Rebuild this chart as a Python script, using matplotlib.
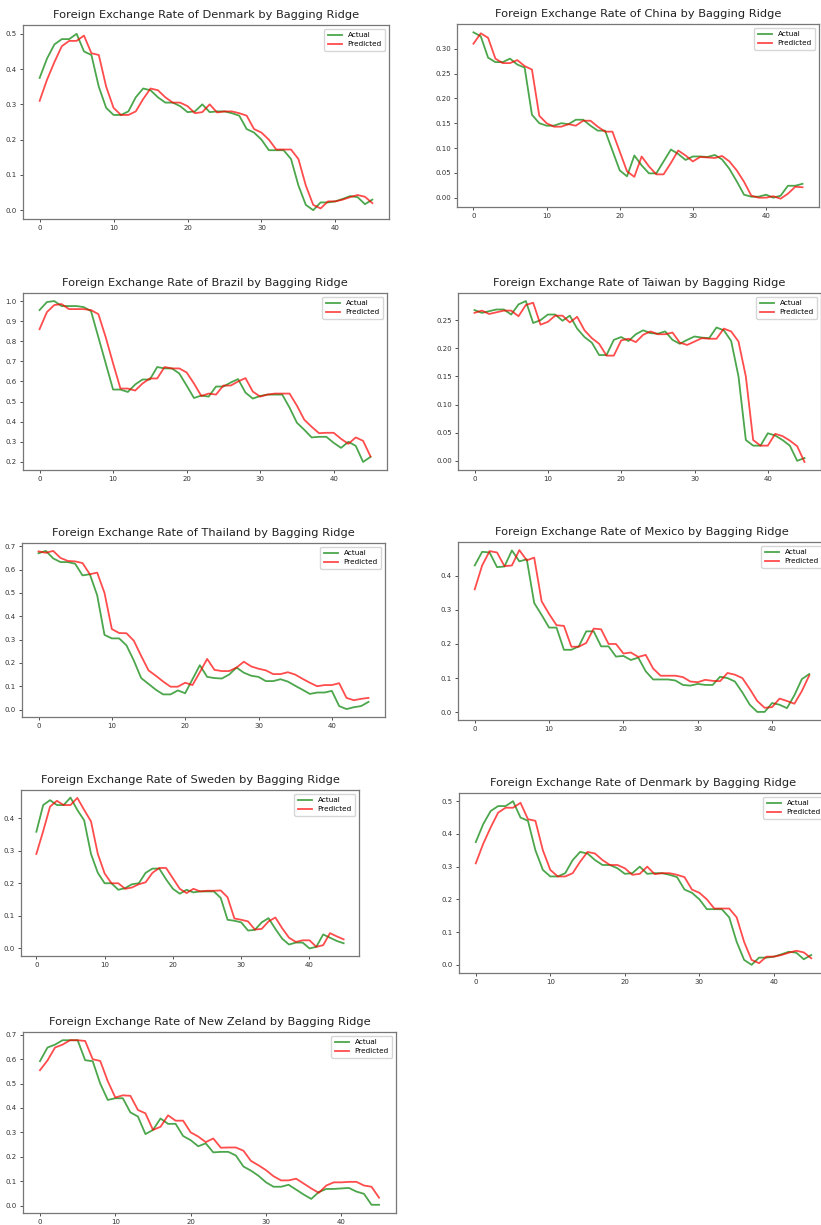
import matplotlib.pyplot as plt

x = list(range(46))

denmark_actual = [0.375, 0.43, 0.47, 0.485, 0.485, 0.50, 0.45, 0.44, 0.35, 0.29,
                  0.27, 0.27, 0.28, 0.32, 0.345, 0.34, 0.32, 0.305, 0.305, 0.295,
                  0.278, 0.28, 0.30, 0.278, 0.28, 0.28, 0.275, 0.268, 0.23, 0.22,
                  0.20, 0.17, 0.17, 0.17, 0.145, 0.07, 0.015, 0.0, 0.022, 0.022,
                  0.025, 0.032, 0.04, 0.037, 0.017, 0.03]
denmark_pred = [0.31, 0.37, 0.42, 0.465, 0.48, 0.48, 0.495, 0.445, 0.44, 0.35,
                0.29, 0.27, 0.27, 0.28, 0.315, 0.345, 0.34, 0.32, 0.305, 0.305,
                0.295, 0.275, 0.278, 0.30, 0.277, 0.28, 0.28, 0.275, 0.268, 0.23,
                0.22, 0.20, 0.172, 0.172, 0.172, 0.145, 0.07, 0.015, 0.005, 0.025,
                0.025, 0.03, 0.037, 0.043, 0.038, 0.02]

china_actual = [0.333, 0.325, 0.282, 0.273, 0.273, 0.28, 0.268, 0.262, 0.167, 0.15,
                0.145, 0.145, 0.15, 0.148, 0.157, 0.157, 0.145, 0.135, 0.135, 0.095,
                0.055, 0.043, 0.085, 0.065, 0.049, 0.049, 0.073, 0.097, 0.088, 0.076,
                0.083, 0.083, 0.082, 0.086, 0.077, 0.058, 0.033, 0.006, 0.002, 0.002,
                0.006, 0.0, 0.004, 0.024, 0.024, 0.028]
china_pred = [0.31, 0.331, 0.322, 0.28, 0.271, 0.271, 0.277, 0.265, 0.258, 0.165,
              0.15, 0.143, 0.143, 0.148, 0.145, 0.155, 0.155, 0.143, 0.133, 0.133,
              0.093, 0.053, 0.042, 0.083, 0.063, 0.047, 0.047, 0.07, 0.095, 0.085,
              0.073, 0.082, 0.081, 0.08, 0.084, 0.073, 0.055, 0.032, 0.004, 0.0,
              0.0, 0.003, -0.002, 0.008, 0.022, 0.021]

brazil_actual = [0.955, 0.995, 1.0, 0.975, 0.975, 0.975, 0.97, 0.95, 0.82, 0.69,
                 0.56, 0.56, 0.548, 0.585, 0.61, 0.61, 0.672, 0.665, 0.665, 0.64,
                 0.58, 0.518, 0.53, 0.525, 0.575, 0.575, 0.595, 0.612, 0.545, 0.515,
                 0.528, 0.535, 0.535, 0.535, 0.47, 0.395, 0.36, 0.322, 0.325, 0.325,
                 0.295, 0.27, 0.30, 0.28, 0.20, 0.225]
brazil_pred = [0.86, 0.945, 0.98, 0.985, 0.96, 0.96, 0.96, 0.955, 0.935, 0.82,
               0.69, 0.565, 0.565, 0.555, 0.59, 0.615, 0.615, 0.672, 0.665, 0.665,
               0.645, 0.59, 0.528, 0.54, 0.535, 0.58, 0.58, 0.60, 0.617, 0.55,
               0.525, 0.535, 0.54, 0.54, 0.54, 0.48, 0.41, 0.375, 0.343, 0.345,
               0.345, 0.315, 0.29, 0.322, 0.305, 0.228]

taiwan_actual = [0.268, 0.263, 0.266, 0.269, 0.269, 0.26, 0.278, 0.284, 0.245, 0.25,
                 0.26, 0.26, 0.249, 0.258, 0.235, 0.22, 0.21, 0.188, 0.188, 0.215,
                 0.22, 0.213, 0.225, 0.232, 0.227, 0.226, 0.23, 0.215, 0.208, 0.215,
                 0.221, 0.219, 0.218, 0.237, 0.232, 0.213, 0.15, 0.037, 0.027, 0.027,
                 0.049, 0.045, 0.037, 0.027, 0.0, 0.005]
taiwan_pred = [0.263, 0.267, 0.261, 0.264, 0.267, 0.267, 0.257, 0.277, 0.281, 0.242,
               0.247, 0.258, 0.258, 0.246, 0.256, 0.232, 0.218, 0.208, 0.187, 0.187,
               0.214, 0.217, 0.211, 0.224, 0.23, 0.225, 0.225, 0.228, 0.21, 0.206,
               0.212, 0.218, 0.217, 0.217, 0.235, 0.23, 0.212, 0.15, 0.037, 0.027,
               0.027, 0.048, 0.044, 0.036, 0.026, -0.002]

thailand_actual = [0.67, 0.68, 0.648, 0.632, 0.632, 0.625, 0.575, 0.58, 0.49, 0.32,
                   0.305, 0.305, 0.275, 0.21, 0.135, 0.11, 0.085, 0.065, 0.065, 0.082,
                   0.07, 0.13, 0.19, 0.14, 0.135, 0.133, 0.15, 0.18, 0.158, 0.145,
                   0.14, 0.122, 0.122, 0.13, 0.12, 0.102, 0.085, 0.067, 0.073, 0.073,
                   0.08, 0.015, 0.002, 0.01, 0.015, 0.033]
thailand_pred = [0.678, 0.672, 0.68, 0.65, 0.637, 0.635, 0.628, 0.58, 0.587, 0.50,
                 0.345, 0.328, 0.327, 0.295, 0.23, 0.168, 0.145, 0.12, 0.098, 0.098,
                 0.115, 0.105, 0.16, 0.217, 0.17, 0.165, 0.165, 0.18, 0.205, 0.185,
                 0.175, 0.168, 0.152, 0.152, 0.16, 0.15, 0.132, 0.115, 0.10, 0.105,
                 0.105, 0.113, 0.05, 0.04, 0.046, 0.05]

mexico_actual = [0.43, 0.47, 0.468, 0.425, 0.427, 0.474, 0.442, 0.448, 0.32, 0.285,
                 0.248, 0.248, 0.183, 0.183, 0.193, 0.237, 0.237, 0.193, 0.193, 0.163,
                 0.165, 0.153, 0.16, 0.12, 0.096, 0.096, 0.096, 0.093, 0.08, 0.078,
                 0.083, 0.08, 0.08, 0.104, 0.10, 0.09, 0.058, 0.022, 0.001, 0.001,
                 0.027, 0.022, 0.012, 0.05, 0.097, 0.112]
mexico_pred = [0.36, 0.43, 0.472, 0.468, 0.428, 0.43, 0.475, 0.445, 0.453, 0.325,
               0.288, 0.255, 0.253, 0.192, 0.192, 0.203, 0.245, 0.243, 0.20, 0.20,
               0.172, 0.175, 0.162, 0.168, 0.128, 0.107, 0.107, 0.107, 0.103, 0.09,
               0.088, 0.095, 0.092, 0.091, 0.115, 0.11, 0.10, 0.068, 0.033, 0.013,
               0.015, 0.04, 0.033, 0.025, 0.062, 0.108]

sweden_actual = [0.358, 0.44, 0.455, 0.44, 0.44, 0.463, 0.425, 0.393, 0.29, 0.232,
                 0.20, 0.20, 0.18, 0.185, 0.197, 0.20, 0.232, 0.245, 0.245, 0.212,
                 0.183, 0.168, 0.18, 0.172, 0.175, 0.175, 0.175, 0.155, 0.088, 0.085,
                 0.08, 0.055, 0.057, 0.08, 0.093, 0.06, 0.03, 0.012, 0.018, 0.018,
                 0.0, 0.005, 0.043, 0.033, 0.023, 0.016]
sweden_pred = [0.29, 0.36, 0.435, 0.453, 0.44, 0.44, 0.462, 0.425, 0.39, 0.29,
               0.23, 0.20, 0.20, 0.183, 0.187, 0.197, 0.203, 0.232, 0.247, 0.247,
               0.215, 0.183, 0.17, 0.183, 0.175, 0.177, 0.177, 0.178, 0.157, 0.092,
               0.088, 0.083, 0.058, 0.06, 0.083, 0.095, 0.062, 0.033, 0.02, 0.025,
               0.025, 0.005, 0.01, 0.047, 0.037, 0.028]

nz_actual = [0.592, 0.648, 0.66, 0.678, 0.678, 0.678, 0.596, 0.592, 0.50, 0.433,
             0.44, 0.44, 0.382, 0.365, 0.293, 0.31, 0.357, 0.335, 0.335, 0.285,
             0.268, 0.243, 0.255, 0.218, 0.22, 0.22, 0.205, 0.16, 0.143, 0.122,
             0.095, 0.077, 0.077, 0.085, 0.065, 0.045, 0.027, 0.055, 0.068, 0.068,
             0.07, 0.072, 0.057, 0.048, 0.003, 0.003]
nz_pred = [0.555, 0.595, 0.648, 0.66, 0.678, 0.678, 0.675, 0.60, 0.593, 0.51,
           0.443, 0.452, 0.45, 0.392, 0.378, 0.31, 0.323, 0.37, 0.348, 0.348,
           0.30, 0.283, 0.26, 0.275, 0.237, 0.238, 0.238, 0.225, 0.183, 0.165,
           0.145, 0.12, 0.103, 0.103, 0.11, 0.09, 0.07, 0.052, 0.082, 0.095,
           0.095, 0.097, 0.097, 0.082, 0.077, 0.032]

W, H = 821, 1225
fig = plt.figure(figsize=(W / 100, H / 100), dpi=100)

# (name, actual, predicted, box in pixels: left, top, right, bottom)
panels = [
    ("Denmark", denmark_actual, denmark_pred, (23, 25, 389, 219)),
    ("China", china_actual, china_pred, (457, 24, 819, 207)),
    ("Brazil", brazil_actual, brazil_pred, (23, 293, 387, 470)),
    ("Taiwan", taiwan_actual, taiwan_pred, (458, 293, 821, 470)),
    ("Thailand", thailand_actual, thailand_pred, (22, 543, 385, 717)),
    ("Mexico", mexico_actual, mexico_pred, (458, 542, 826, 720)),
    ("Sweden", sweden_actual, sweden_pred, (21, 790, 359, 956)),
    ("Denmark", denmark_actual, denmark_pred, (459, 793, 828, 973)),
    ("New Zeland", nz_actual, nz_pred, (23, 1032, 396, 1213)),
]

for name, actual, pred, (l, t, r, b) in panels:
    ax = fig.add_axes([l / W, 1 - b / H, (r - l) / W, (b - t) / H])
    ax.plot(x, actual, color='green', alpha=0.7, linewidth=1.3, label='Actual')
    ax.plot(x, pred, color='red', alpha=0.7, linewidth=1.3, label='Predicted')
    ax.set_title(f"Foreign Exchange Rate of {name} by Bagging Ridge",
                 fontsize=8.2, color='#222222', pad=5)
    ax.set_xticks([0, 10, 20, 30, 40])
    ax.tick_params(labelsize=5, length=2.5, width=0.6, pad=2, colors='#333333')
    for sp in ax.spines.values():
        sp.set_color('#777777')
        sp.set_linewidth(0.9)
    ax.legend(fontsize=5.2, loc='upper right', handlelength=1.9,
              borderpad=0.5, labelspacing=0.4)

fig.savefig('out.png', dpi=100)
